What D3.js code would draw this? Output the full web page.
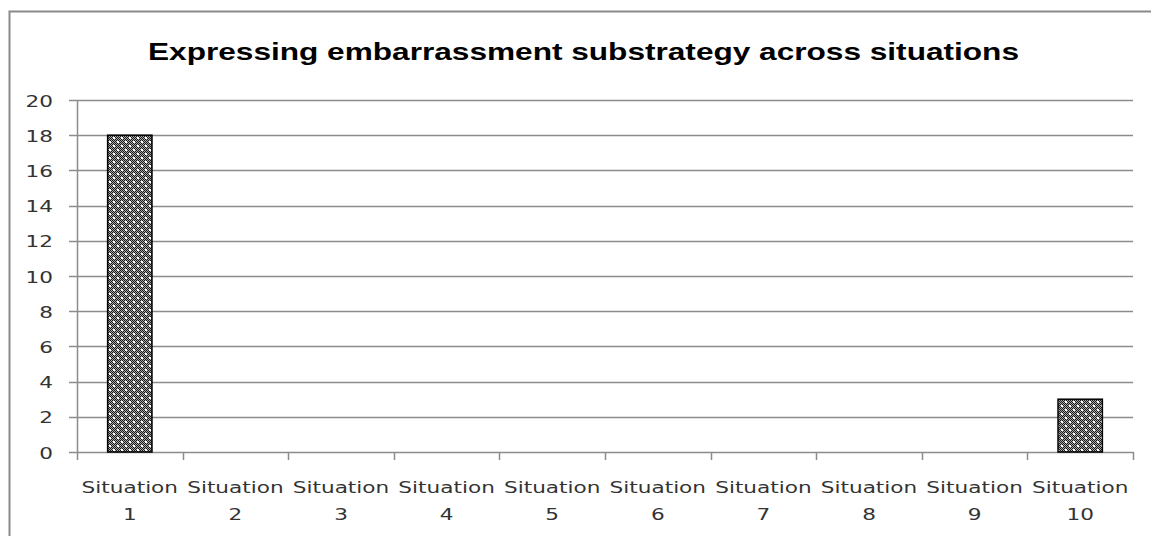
<!DOCTYPE html>
<html>
<head>
<meta charset="utf-8">
<script src="https://cdn.jsdelivr.net/npm/d3@7"></script>
<style>
  html, body { margin: 0; padding: 0; background: #fff; }
  svg { display: block; }
</style>
</head>
<body>
<svg id="chart" width="1151" height="536"></svg>
<script>
const title = "Expressing embarrassment substrategy across situations";
const categories = ["Situation 1","Situation 2","Situation 3","Situation 4","Situation 5","Situation 6","Situation 7","Situation 8","Situation 9","Situation 10"];
const values = [18, 0, 0, 0, 0, 0, 0, 0, 0, 3];
const yTicks = [0, 2, 4, 6, 8, 10, 12, 14, 16, 18, 20];

const svg = d3.select("#chart");
const W = 1151, H = 536;
const plot = { left: 77, right: 1133, top: 100, bottom: 452 };
const sx = 1.35; // horizontal text stretch seen in reference

const defs = svg.append("defs");
const checker = defs.append("pattern").attr("id", "checker")
  .attr("width", 2).attr("height", 2).attr("patternUnits", "userSpaceOnUse");
checker.append("rect").attr("width", 2).attr("height", 2).attr("fill", "#a8a8a8");
checker.append("rect").attr("width", 1).attr("height", 1).attr("fill", "#1a1a1a");
checker.append("rect").attr("x", 1).attr("y", 1).attr("width", 1).attr("height", 1).attr("fill", "#1a1a1a");
const dots = defs.append("pattern").attr("id", "dots")
  .attr("width", 8).attr("height", 8).attr("patternUnits", "userSpaceOnUse");
dots.append("rect").attr("width", 8).attr("height", 8).attr("fill", "url(#checker)");
dots.append("rect").attr("x", 1).attr("y", 1).attr("width", 2).attr("height", 2).attr("fill", "#fff");
dots.append("rect").attr("x", 5).attr("y", 5).attr("width", 2).attr("height", 2).attr("fill", "#fff");

// chart border
svg.append("path")
  .attr("d", `M9.5,${H} L9.5,11.5 L${W},11.5`)
  .attr("fill", "none").attr("stroke", "#8a8a8a").attr("stroke-width", 2);

// title
svg.append("text")
  .attr("x", 148).attr("y", 59.5)
  .attr("textLength", 871).attr("lengthAdjust", "spacingAndGlyphs")
  .style("font-family", "'Liberation Sans', Arial, sans-serif")
  .style("font-weight", "bold").style("font-size", "24.5px").attr("fill", "#000")
  .text(title);

const x = d3.scaleBand().domain(categories).range([plot.left, plot.right])
  .paddingInner(0.58).paddingOuter(0.29);
const xb = d3.scaleBand().domain(categories).range([plot.left, plot.right]);
const y = d3.scaleLinear().domain([0, 20]).range([plot.bottom, plot.top]);

// gridlines
svg.append("g").selectAll("line").data(yTicks.filter(d => d > 0)).join("line")
  .attr("x1", plot.left).attr("x2", plot.right)
  .attr("y1", d => Math.round(y(d)) + 0.5).attr("y2", d => Math.round(y(d)) + 0.5)
  .attr("stroke", "#8c8c8c").attr("stroke-width", 1.5);

// y axis
const yAxis = svg.append("g");
yAxis.append("line").attr("x1", plot.left + 0.5).attr("x2", plot.left + 0.5)
  .attr("y1", plot.top).attr("y2", plot.bottom + 0.5)
  .attr("stroke", "#8c8c8c").attr("stroke-width", 1.5);
yAxis.selectAll("line.tick").data(yTicks).join("line").attr("class", "tick")
  .attr("x1", 69).attr("x2", plot.left)
  .attr("y1", d => Math.round(y(d)) + 0.5).attr("y2", d => Math.round(y(d)) + 0.5)
  .attr("stroke", "#8c8c8c").attr("stroke-width", 1.5);
yAxis.selectAll("text").data(yTicks).join("text")
  .attr("transform", d => `translate(53,${y(d) + 6.5}) scale(${sx},1)`)
  .attr("text-anchor", "end")
  .style("font-family", "'DejaVu Sans', Verdana, sans-serif").style("font-size", "16px")
  .attr("fill", "#333")
  .text(d => d);

// x axis
const xAxis = svg.append("g");
xAxis.append("line").attr("x1", plot.left).attr("x2", plot.right)
  .attr("y1", plot.bottom + 0.5).attr("y2", plot.bottom + 0.5)
  .attr("stroke", "#8c8c8c").attr("stroke-width", 1.5);
const bounds = categories.map(c => xb(c)).concat([plot.right]);
xAxis.selectAll("line.tick").data(bounds).join("line").attr("class", "tick")
  .attr("x1", d => Math.round(d) + 0.5).attr("x2", d => Math.round(d) + 0.5)
  .attr("y1", plot.bottom).attr("y2", plot.bottom + 8)
  .attr("stroke", "#8c8c8c").attr("stroke-width", 1.5);
const lbl = xAxis.selectAll("g.lbl").data(categories).join("g").attr("class", "lbl");
lbl.append("text")
  .attr("transform", d => `translate(${xb(d) + xb.bandwidth() / 2},493) scale(${sx},1)`)
  .attr("text-anchor", "middle")
  .style("font-family", "'DejaVu Sans', Verdana, sans-serif").style("font-size", "16px")
  .attr("fill", "#333")
  .text(d => d.split(" ")[0]);
lbl.append("text")
  .attr("transform", d => `translate(${xb(d) + xb.bandwidth() / 2},520) scale(${sx},1)`)
  .attr("text-anchor", "middle")
  .style("font-family", "'DejaVu Sans', Verdana, sans-serif").style("font-size", "16px")
  .attr("fill", "#333")
  .text(d => d.split(" ")[1]);

// bars
svg.append("g").selectAll("rect").data(categories.map((c, i) => ({ c, v: values[i] })).filter(d => d.v > 0))
  .join("rect")
  .attr("x", d => x(d.c)).attr("width", x.bandwidth())
  .attr("y", d => y(d.v)).attr("height", d => y(0) - y(d.v))
  .attr("fill", "url(#dots)").attr("stroke", "#000").attr("stroke-width", 1.5);
</script>
</body>
</html>
